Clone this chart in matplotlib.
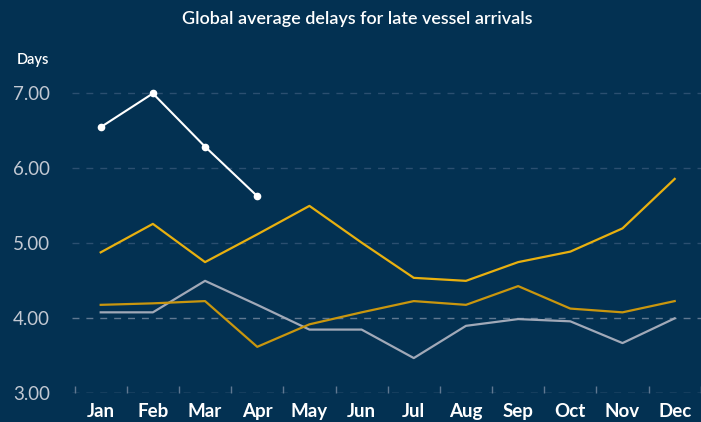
import matplotlib.pyplot as plt
import numpy as np

months = ["Jan", "Feb", "Mar", "Apr", "May", "Jun",
          "Jul", "Aug", "Sep", "Oct", "Nov", "Dec"]

# average delay in days
delays_white = [6.55, 7.00, 6.29, 5.63]
delays_yellow = [4.88, 5.26, 4.75, 5.12, 5.50, 5.01, 4.54, 4.50, 4.75, 4.89, 5.20, 5.86]
delays_gold = [4.18, 4.20, 4.23, 3.62, 3.92, 4.08, 4.23, 4.18, 4.43, 4.13, 4.08, 4.23]
delays_grey = [4.08, 4.08, 4.50, 4.18, 3.85, 3.85, 3.47, 3.90, 3.99, 3.96, 3.67, 4.00]

yticks = [3, 4, 5, 6, 7]
ytick_labels = ["3.00", "4.00", "5.00", "6.00", "7.00"]

BG = "#033152"
plt.rcParams["font.family"] = ["Lato", "DejaVu Sans"]

fig = plt.figure(figsize=(7.01, 4.22), dpi=100, facecolor=BG)
ax = fig.add_axes([0.1027, 0.068, 0.897, 0.755])
ax.set_facecolor(BG)

x = np.arange(len(months))

# grid lines
for v in [5, 6, 7]:
    ax.axhline(v, color="#2b4f70", lw=1, ls=(0, (5, 5)), zorder=1)
for v in [3, 4]:
    ax.axhline(v, color="#5f7891", lw=1, ls=(0, (5, 5)), zorder=1)

ax.plot(x, delays_grey, color="#a1a9b8", lw=1.6, zorder=3)
ax.plot(x, delays_gold, color="#c9960e", lw=1.6, zorder=3)
ax.plot(x, delays_yellow, color="#e8b00f", lw=1.6, zorder=3)
ax.plot(x[:len(delays_white)], delays_white, color="white", lw=1.5,
        marker="o", ms=4.5, zorder=4)

ax.set_xlim(-0.55, 11.36)
ax.set_ylim(3, 7.25)

ax.set_xticks(x)
ax.set_xticklabels(months, color="white", fontsize=13.5, fontweight="bold")
ax.set_xticks(np.arange(-0.5, 11.6, 1), minor=True)
ax.tick_params(axis="x", which="major", length=0, pad=7)
ax.tick_params(axis="x", which="minor", length=5, direction="in",
               color="#5f7891", width=1)

ax.set_yticks(yticks)
ax.set_yticklabels(ytick_labels, color="#c3c9d3", fontsize=13.5)
ax.tick_params(axis="y", length=0, pad=16)

for s in ax.spines.values():
    s.set_visible(False)

fig.text(0.047, 0.857, "Days", color="white", fontsize=10.5, ha="center",
         va="center", fontweight="semibold")
fig.text(0.51, 0.955, "Global average delays for late vessel arrivals",
         color="white", fontsize=13, ha="center", va="center", fontweight="semibold")

fig.savefig("out.png", dpi=100, facecolor=BG)
